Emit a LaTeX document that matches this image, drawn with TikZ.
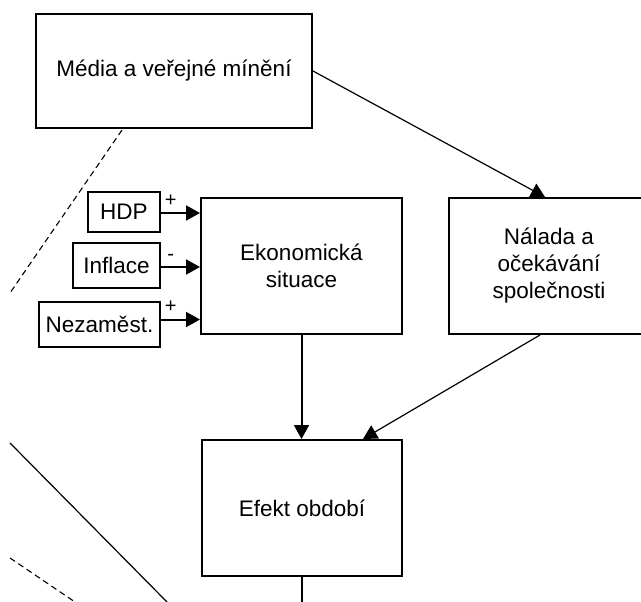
\documentclass[tikz,border=0pt]{standalone}
\usepackage{fontspec}
\setmainfont{Liberation Sans}
\usetikzlibrary{arrows.meta}
\begin{document}
\begin{tikzpicture}[x=1pt,y=-1pt,line join=miter,>={Triangle[length=14pt,width=15pt]},
 box/.style={draw,line width=2pt,align=center,inner sep=0pt,font=\fontsize{22.5}{27}\selectfont},
 small/.style={box,minimum height=45pt},
 sign/.style={inner sep=0pt,font=\fontsize{20}{20}\selectfont},
 boldline/.style={line width=2pt},
 slimline/.style={line width=1.2pt},
 dashline/.style={line width=1.1pt,dash pattern=on 6pt off 4pt}]
 \useasboundingbox (0,0) rectangle (641,602);
 \clip (0,0) rectangle (641,602);
 % main boxes
 \node[box,minimum width=276pt,minimum height=114pt] (media) at (174,71) {Média a veřejné mínění};
 \node[box,minimum width=201pt,minimum height=136pt] (ekon) at (301.5,266) {Ekonomická\\situace};
 \node[box,minimum width=200pt,minimum height=136pt] (nalada) at (549,266) {Nálada a\\očekávání\\společnosti};
 \node[box,minimum width=200pt,minimum height=136pt] (efekt) at (302,508) {Efekt období};
 % indicators
 \node[small,minimum width=72pt,minimum height=40pt] (hdp) at (124,212) {HDP};
 \node[small,minimum width=87pt] (infl) at (116.5,265.5) {Inflace};
 \node[small,minimum width=121pt] (nez) at (99.5,324.5) {Nezaměst.};
 \foreach \n/\s/\d in {hdp/+/-1pt,infl/-/-1.5pt,nez/+/5pt}
 \draw[->,boldline] ([yshift=\d]\n.east) -- ([yshift=\d]\n.east -| ekon.west) node[sign,pos=0.25,above=6pt] {\s};
 % connectors
 \draw[->,boldline] (ekon.south) -- (ekon.south |- efekt.north);
 \draw[->,slimline] (media.east) -- ([xshift=-4pt]nalada.north);
 \draw[->,slimline] ([xshift=-9pt]nalada.south) -- ([xshift=61pt]efekt.north);
 \coordinate (bottom) at (302,602);
 \draw[boldline] (efekt.south) -- (bottom);
 % lines on the left
 \draw[dashline] (122,130) -- (10,293);
 \draw[slimline] (10,443) -- (167,602);
 \draw[dashline] (10,558) -- (75,602);
\end{tikzpicture}
\end{document}
